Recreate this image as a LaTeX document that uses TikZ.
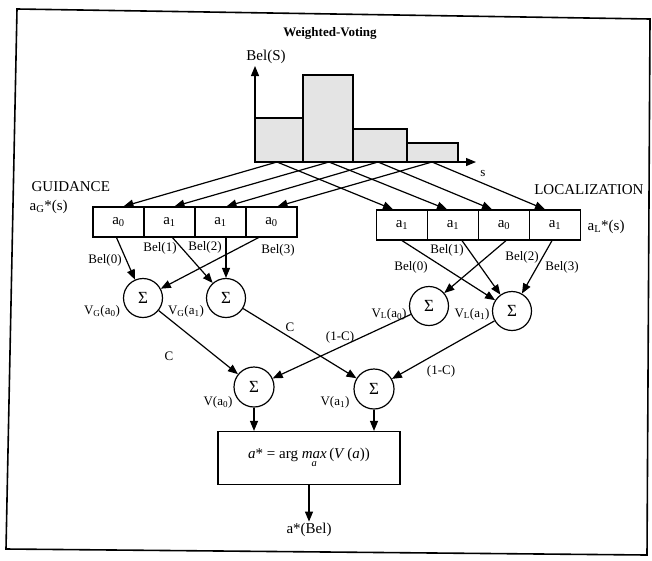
\documentclass[tikz,border=0pt]{standalone}
\usepackage{fontspec}
\setmainfont{Liberation Serif}
\usepackage{amsmath}
\usetikzlibrary{positioning, calc, arrows.meta}
\definecolor{barFill}{HTML}{E4E4E4}

\begin{document}
\begin{tikzpicture}[x=1pt, y=-1pt, line width=1.2pt,
  cell/.style={draw, minimum width=51pt, minimum height=30pt, inner sep=0pt, font=\fontsize{15}{17}\selectfont},
  n/.style={draw, circle, minimum size=39pt, inner sep=0pt, font=\fontsize{17}{19}\selectfont},
  lbl/.style={inner sep=1pt, font=\fontsize{13}{15}\selectfont},
  big/.style={inner sep=1pt, font=\fontsize{15}{17}\selectfont},
  arr/.style={-{Triangle[length=10pt, width=8pt]}}
]
\useasboundingbox (0,0) rectangle (652,560);
\draw[line width=1.6pt] (17,9) -- (650,19) -- (647,555) -- (6,549) -- cycle;

\node[font=\bfseries\fontsize{13}{15}\selectfont] (title) at (330,33) {Weighted-Voting};

% histogram of Bel(S)
\draw[fill=barFill] (255,162) rectangle (303,118);
\draw[fill=barFill] (303,162) rectangle (353,75);
\draw[fill=barFill] (353,162) rectangle (407,129);
\draw[fill=barFill] (407,162) rectangle (458,143);
\draw[arr] (255,162) -- (255,66);
\draw[arr] (255,162) -- (476,162);
\node[big] (bels) at (266,57) {Bel(S)};
\node[lbl] (sx) at (483,173) {s};
\coordinate (b1) at (277,162);
\coordinate (b2) at (329,162);
\coordinate (b3) at (378,162);
\coordinate (b4) at (432,162);

% guidance actions
\node[big, anchor=west] (guid) at (30,187) {GUIDANCE};
\node[big, anchor=west] (ag) at (28,207) {a\textsubscript{G}*(s)};
\node[cell] (g1) at (118.5,222) {a\textsubscript{0}};
\node[cell] (g2) at (169.5,222) {a\textsubscript{1}};
\node[cell] (g3) at (220.5,222) {a\textsubscript{1}};
\node[cell] (g4) at (271.5,222) {a\textsubscript{0}};

% localization actions
\node[big, anchor=east] (loc) at (645,190) {LOCALIZATION};
\node[big, anchor=west] (al) at (586,227) {a\textsubscript{L}*(s)};
\node[cell] (l1) at (402,225) {a\textsubscript{1}};
\node[cell] (l2) at (453,225) {a\textsubscript{1}};
\node[cell] (l3) at (504,225) {a\textsubscript{0}};
\node[cell] (l4) at (555,225) {a\textsubscript{1}};

\draw[arr] (b1) -- ($(g1.north)+(5,0)$);
\draw[arr] (b2) -- ($(g2.north)+(5,0)$);
\draw[arr] (b3) -- ($(g3.north)+(6,0)$);
\draw[arr] (b4) -- ($(g4.north)+(6,0)$);
\draw[arr] (b1) -- ($(l1.north)+(-9,0)$);
\draw[arr] (b2) -- ($(l2.north)+(-6,0)$);
\draw[arr] (b3) -- ($(l3.north)+(-12,0)$);
\draw[arr] (b4) -- ($(l4.north)+(-10,0)$);

% partial votes
\node[n] (gs0) at (143,298) {Σ};
\node[n] (gs1) at (226,298) {Σ};
\node[n] (ls0) at (429,306) {Σ};
\node[n] (ls1) at (512,311) {Σ};

\draw[arr] ($(g1.south)+(-2,0)$) -- (gs0);
\draw[arr] ($(g4.south)+(-13,0)$) -- (gs0);
\draw[arr] ($(g2.south)+(3,0)$) -- (gs1);
\draw[arr] (gs1 |- g3.south) -- (gs1);
\draw[arr] (l1.south) -- (ls1);
\draw[arr] ($(l2.south)+(9,0)$) -- (ls1);
\draw[arr] ($(l3.south)+(2,0)$) -- (ls0);
\draw[arr] ($(l4.south)+(-3,0)$) -- (ls1);

\node[lbl] (gb0) at (105,260) {Bel(0)};
\node[lbl] (gb1) at (160,248) {Bel(1)};
\node[lbl] (gb2) at (205,247) {Bel(2)};
\node[lbl] (gb3) at (278,250) {Bel(3)};
\node[lbl] (lb0) at (411,267) {Bel(0)};
\node[lbl] (lb1) at (447,250) {Bel(1)};
\node[lbl] (lb2) at (522,257) {Bel(2)};
\node[lbl] (lb3) at (562,267) {Bel(3)};

\node[lbl] (vg0) at (102,311) {V\textsubscript{G}(a\textsubscript{0})};
\node[lbl] (vg1) at (186,311) {V\textsubscript{G}(a\textsubscript{1})};
\node[lbl] (vl0) at (389,314) {V\textsubscript{L}(a\textsubscript{0})};
\node[lbl] (vl1) at (472,314) {V\textsubscript{L}(a\textsubscript{1})};

% weighted votes
\node[n, minimum size=40pt] (v0) at (254,387) {Σ};
\node[n, minimum size=40pt] (v1) at (374,389) {Σ};
\draw[arr] (gs0) -- (v0);
\draw[arr] (gs1) -- (v1);
\draw[arr] (ls0) -- (v0);
\draw[arr] (ls1) -- (v1);
\node[lbl] (c0) at (169,356) {C};
\node[lbl] (c1) at (290,327) {C};
\node[lbl] (c2) at (340,337) {(1-C)};
\node[lbl] (c3) at (441,371) {(1-C)};
\node[lbl] (va0) at (218,402) {V(a\textsubscript{0})};
\node[lbl] (va1) at (335,402) {V(a\textsubscript{1})};

% decision
\node[draw, minimum width=182pt, minimum height=53pt, font=\fontsize{15}{17}\selectfont] (res) at (309,458)
  {\textit{a}* = arg $\mathop{\textit{max}}\limits_{\textit{a}}$\,(\textit{V}\,(\textit{a}))};
\draw[arr] (v0.south) -- (v0.south |- res.north);
\draw[arr] (v1.south) -- (v1.south |- res.north);
\node[big] (out) at (309,530) {a*(Bel)};
\draw[arr] (res.south) -- (out.north);
\end{tikzpicture}
\end{document}
